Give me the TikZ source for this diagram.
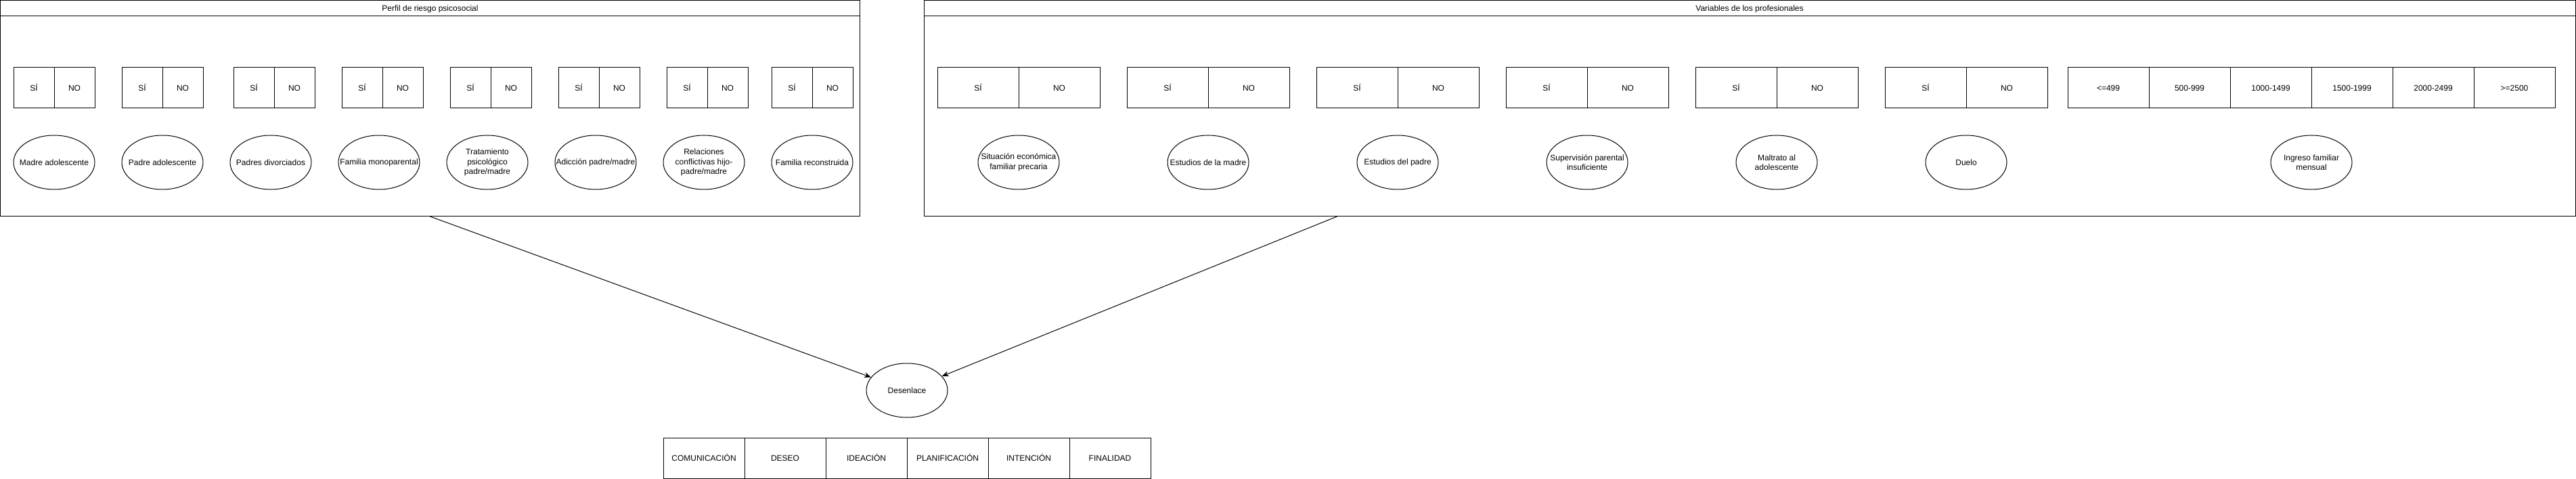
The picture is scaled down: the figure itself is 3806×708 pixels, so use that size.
\documentclass[tikz,border=0pt]{standalone}
\usepackage{fontspec}
\setmainfont{Liberation Sans}
\usetikzlibrary{calc}
\usetikzlibrary{positioning}
\usetikzlibrary{shapes.geometric}
\usetikzlibrary{arrows.meta}

\begin{document}
\begin{tikzpicture}[x=1pt, y=-1pt, line width=1pt,
  every node/.style={font=\fontsize{12}{14.5}\selectfont},
  cell/.style={draw, rectangle, inner sep=0pt, outer sep=0pt, minimum height=60pt,
    text height=8.6pt, text depth=0pt},
  oval/.style={draw, ellipse, inner sep=-20pt, minimum width=120pt, minimum height=80pt, align=center},
  lane/.style={draw, rectangle, inner sep=0pt, outer sep=0pt, minimum height=319.5pt, anchor=north west}]

  \useasboundingbox (0,0) rectangle (3806,708);

  % left container
  \node[lane, minimum width=1270pt] (PerfilLane) at (0.5,0.5) {};
  \draw ($(PerfilLane.north west)+(0,23)$) -- ($(PerfilLane.north east)+(0,23)$);
  \node[text height=8.6pt, text depth=0pt] (PerfilTitle) at (635.5,12) {Perfil de riesgo psicosocial};

  \foreach \x [count=\i] in {20,180,345,505,665,825,985,1140}{%
    \node[cell, minimum width=60pt] (Si\i) at (\x+30,130) {SÍ};
    \node[cell, minimum width=60pt, right=0pt of Si\i] (No\i) {NO};
  }

  \node[oval] (MadreAdol) at (80,240) {Madre adolescente};
  \node[oval] (PadreAdol) at (240,240) {Padre adolescente};
  \node[oval] (Divorcio) at (400,240) {Padres divorciados};
  \node[oval] (Monoparental) at (560,240) {Familia monoparental};
  \node[oval] (Tratamiento) at (720,240) {Tratamiento\\psicológico\\padre/madre};
  \node[oval] (Adiccion) at (880,240) {Adicción padre/madre};
  \node[oval] (Conflicto) at (1040,240) {Relaciones\\conflictivas hijo-\\padre/madre};
  \node[oval] (Reconstruida) at (1200,240) {Familia reconstruida};

  % right container
  \node[lane, minimum width=2439.5pt] (VarLane) at (1365.5,0.5) {};
  \draw ($(VarLane.north west)+(0,23)$) -- ($(VarLane.north east)+(0,23)$);
  \node[text height=8.6pt, text depth=0pt] (VarTitle) at (2585,12) {Variables de los profesionales};

  \foreach \x [count=\i] in {1385,1665,1945,2225,2505,2785}{%
    \node[cell, minimum width=120pt] (VarSi\i) at (\x+60,130) {SÍ};
    \node[cell, minimum width=120pt, right=0pt of VarSi\i] (VarNo\i) {NO};
  }
  \foreach \r [count=\i] in {<=499,500-999,1000-1499,1500-1999,2000-2499,>=2500}{%
    \node[cell, minimum width=120pt] (Ingreso\i) at (3055+120*\i-60,130) {\r};
  }

  \node[oval] (Economica) at (1505,240) {Situación económica\\familiar precaria};
  \node[oval] (EstMadre) at (1785,240) {Estudios de la madre};
  \node[oval] (EstPadre) at (2065,240) {Estudios del padre};
  \node[oval] (Supervision) at (2345,240) {Supervisión parental\\insuficiente};
  \node[oval] (Maltrato) at (2625,240) {Maltrato al\\adolescente};
  \node[oval] (Duelo) at (2905,240) {Duelo};
  \node[oval] (IngresoMes) at (3415,240) {Ingreso familiar\\mensual};

  % outcome
  \node[oval] (Desenlace) at (1340,577) {Desenlace};

  \foreach \t [count=\i] in {COMUNICACIÓN,DESEO,IDEACIÓN,PLANIFICACIÓN,INTENCIÓN,FINALIDAD}{%
    \node[cell, minimum width=120pt] (Grado\i) at (980+120*\i-60,677) {\t};
  }

  \draw[-{Stealth[length=10pt,width=8pt]}] (PerfilLane.south) -- (Desenlace);
  \draw[-{Stealth[length=10pt,width=8pt]}]
    ($(VarLane.south west)!0.25!(VarLane.south east)$) -- (Desenlace);
\end{tikzpicture}
\end{document}
